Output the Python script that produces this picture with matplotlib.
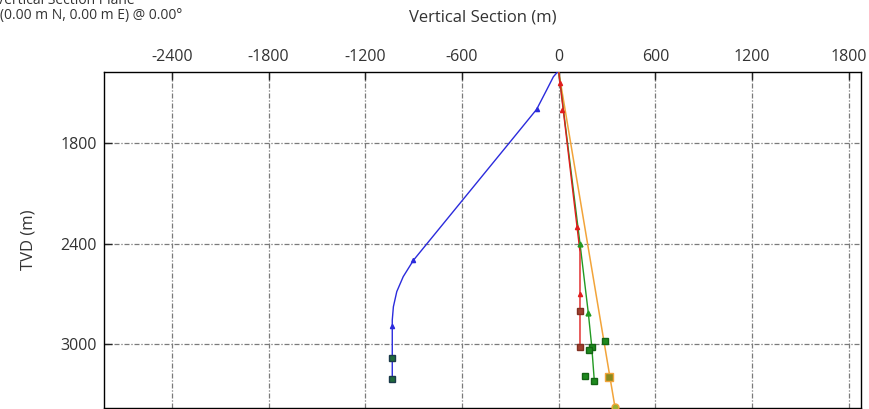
import matplotlib
matplotlib.use("Agg")
import matplotlib.pyplot as plt

plt.rcParams['font.family'] = ['Open Sans', 'DejaVu Sans']
plt.rcParams['axes.unicode_minus'] = False

# ---- data (Vertical Section m, TVD m) ----
blue_vs = [-6, -33, -75, -137, -306, -817, -902, -965, -1005, -1026, -1033, -1033]
blue_tvd = [1377, 1407, 1486, 1601, 1800, 2400, 2500, 2597, 2686, 2776, 2855, 3204]
blue_mk_vs = [-137, -902, -1033]
blue_mk_tvd = [1601, 2500, 2889]
blue_sq_vs = [-1033, -1033]
blue_sq_tvd = [3080, 3204]

red_vs = [0, 132, 132]
red_tvd = [1377, 2450, 3014]
red_mk_vs = [8, 19, 116, 132]
red_mk_tvd = [1445, 1605, 2300, 2700]
red_sq_vs = [132, 132]
red_sq_tvd = [2800, 3014]

green_vs = [0, 132, 184, 205, 221]
green_tvd = [1377, 2400, 2816, 3014, 3218]
green_mk_vs = [132, 184]
green_mk_tvd = [2400, 2816]
green_sq_vs = [205, 221, 287, 190, 163]
green_sq_tvd = [3014, 3218, 2979, 3034, 3191]

orange_vs = [0, 349]
orange_tvd = [1377, 3373]
orange_sq_vs = [314]
orange_sq_tvd = [3197]

xticks = [-2400, -1800, -1200, -600, 0, 600, 1200, 1800]
yticks = [1800, 2400, 3000]

fig = plt.figure(figsize=(8.69, 4.09), dpi=100)
W, H = 869, 409
L, R, T, B = 104, 861, 71.7, 407.5
ax = fig.add_axes([L / W, 1 - B / H, (R - L) / W, (B - T) / H])

blue = '#2b2bdc'
red = '#e01e1e'
green = '#229a22'
orange = '#f2a43a'

ax.plot(blue_vs, blue_tvd, color=blue, lw=1.0, zorder=3)
ax.plot(blue_mk_vs, blue_mk_tvd, ls='none', marker='^', ms=3, color=blue, zorder=4)
ax.plot(blue_sq_vs, blue_sq_tvd, ls='none', marker='s', ms=5, mfc='#1f6a3a', mec='#1a3a4a', zorder=4)

ax.plot(orange_vs, orange_tvd, color=orange, lw=1.1, zorder=3)
ax.plot(orange_sq_vs, orange_sq_tvd, ls='none', marker='s', ms=6, mfc='#8a8a20', mec=orange, zorder=4)
ax.plot(orange_vs[-1:], orange_tvd[-1:], ls='none', marker='o', ms=5, mfc='#9ab030', mec=orange, zorder=4)

ax.plot(green_vs, green_tvd, color=green, lw=1.0, zorder=3)
ax.plot(green_mk_vs, green_mk_tvd, ls='none', marker='^', ms=3.5, color=green, zorder=4)
ax.plot(green_sq_vs, green_sq_tvd, ls='none', marker='s', ms=5, mfc='#1e8a1e', mec='#146414', zorder=4)

ax.plot(red_vs, red_tvd, color=red, lw=1.0, zorder=3)
ax.plot(red_mk_vs, red_mk_tvd, ls='none', marker='^', ms=3, color=red, zorder=4)
ax.plot(red_sq_vs, red_sq_tvd, ls='none', marker='s', ms=5, mfc='#a04030', mec='#803020', zorder=4)

ax.set_xlim(-2822, 1876)
ax.set_ylim(3376, 1377)
ax.set_xticks(xticks)
ax.set_yticks(yticks)
ax.xaxis.tick_top()
ax.tick_params(axis='x', direction='in', length=6, width=1, pad=5, labelsize=11.5, colors='#222222')
ax.tick_params(axis='y', direction='in', length=6, width=1, pad=5, labelsize=11.5, colors='#222222')
for lab in ax.get_xticklabels() + ax.get_yticklabels():
    lab.set_color('#333333')
ax.grid(True, color='#7a7a7a', lw=0.9, ls=(0, (4, 1.5, 1, 1.5)), zorder=1)
for s in ax.spines.values():
    s.set_color('black')
    s.set_linewidth(1.0)

fig.text(482.5 / W, 1 - 18 / H, 'Vertical Section (m)', ha='center', va='center', fontsize=12, color='#333333')
fig.text(29 / W, 1 - 240 / H, 'TVD (m)', ha='center', va='center', rotation=90, fontsize=12, color='#333333')
fig.text(-4 / W, 1 - 1 / H, 'Vertical Section Plane', ha='left', va='center', fontsize=10, color='#333333')
fig.text(0 / W, 1 - 16 / H, '(0.00 m N, 0.00 m E) @ 0.00°', ha='left', va='center', fontsize=10, color='#333333')

fig.savefig('out.png', dpi=100)
